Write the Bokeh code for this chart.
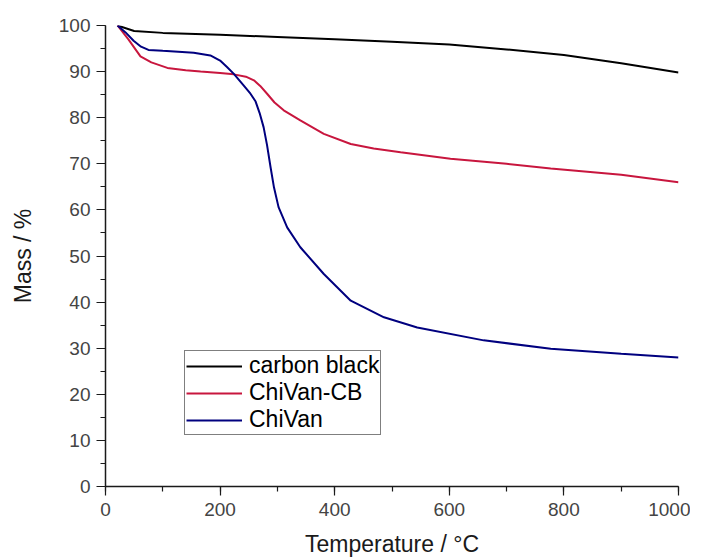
from bokeh.plotting import figure
from bokeh.embed import file_html
from bokeh.resources import INLINE
from bokeh.models import Range1d, Legend, LegendItem, SingleIntervalTicker

# Data
cb_temp = [21, 50, 100, 200, 300, 400, 500, 600, 700, 800, 900, 1000]
cb_mass = [100, 98.8, 98.4, 98.0, 97.5, 97.0, 96.5, 95.9, 94.8, 93.6, 91.8, 89.8]

cvcb_temp = [21, 40, 61, 80, 108, 140, 166, 200, 224, 245, 259, 270, 282, 295, 311,
             340, 381, 428, 468, 515, 602, 700, 777, 900, 1000]
cvcb_mass = [100, 97, 93.3, 92.0, 90.8, 90.3, 90.0, 89.7, 89.4, 88.9, 88.1, 86.9,
             85.2, 83.3, 81.6, 79.4, 76.5, 74.3, 73.3, 72.5, 71.1, 70.0, 69.0, 67.6, 66.0]

cv_temp = [21, 35, 49, 62, 75, 100, 154, 183, 200, 212, 224, 241, 253, 262, 269,
           276, 282, 288, 294, 302, 317, 340, 381, 428, 486, 544, 660, 777, 900, 1000]
cv_mass = [100, 98.5, 96.7, 95.4, 94.7, 94.5, 94.1, 93.5, 92.4, 91.0, 89.5, 87.0,
           85.2, 83.5, 81.0, 77.9, 74.0, 69.3, 64.9, 60.6, 56.2, 51.9, 46.1, 40.3,
           36.7, 34.5, 31.7, 29.9, 28.8, 28.0]

labels = ["carbon black", "ChiVan-CB", "ChiVan"]
colors = ["#000000", "#C8163E", "#00007F"]

FONT = "Liberation Sans"

p = figure(frame_width=573, frame_height=461, output_backend="svg",
           toolbar_location=None, x_range=Range1d(0, 1000), y_range=Range1d(0, 100),
           min_border_left=105, min_border_top=25, min_border_right=12,
           min_border_bottom=70)
p.outline_line_color = None
p.grid.visible = False
p.background_fill_color = "white"

renderers = []
for xs, ys, c in zip([cb_temp, cvcb_temp, cv_temp], [cb_mass, cvcb_mass, cv_mass], colors):
    r = p.line(xs, ys, line_color=c, line_width=2)
    renderers.append(r)

for ax in (p.xaxis[0], p.yaxis[0]):
    ax.axis_line_color = "#1a1a1a"
    ax.axis_line_width = 1.5
    ax.major_tick_line_color = "#1a1a1a"
    ax.minor_tick_line_color = "#1a1a1a"
    ax.major_tick_line_width = 1.2
    ax.minor_tick_line_width = 1.2
    ax.major_tick_in = 0
    ax.major_tick_out = 9
    ax.minor_tick_in = 0
    ax.minor_tick_out = 5
    ax.major_label_text_font = FONT
    ax.major_label_text_font_size = "19px"
    ax.major_label_text_color = "#444444"
    ax.axis_label_text_font = FONT
    ax.axis_label_text_font_size = "23px"
    ax.axis_label_text_font_style = "normal"
    ax.axis_label_text_color = "#1a1a1a"

p.xaxis[0].ticker = SingleIntervalTicker(interval=200, num_minor_ticks=2)
p.yaxis[0].ticker = SingleIntervalTicker(interval=10, num_minor_ticks=2)
p.xaxis[0].axis_label = "Temperature / °C"
p.yaxis[0].axis_label = "Mass / %"
p.xaxis[0].major_label_standoff = 7
p.xaxis[0].axis_label_standoff = 12
p.yaxis[0].major_label_standoff = 6
p.yaxis[0].axis_label_standoff = 20

legend = Legend(items=[LegendItem(label=l, renderers=[r]) for l, r in zip(labels, renderers)],
                location=(79, 51))
legend.border_line_color = "#000000"
legend.border_line_width = 1
legend.background_fill_alpha = 1
legend.padding = 1
legend.margin = 0
legend.spacing = 0
legend.glyph_width = 56
legend.glyph_height = 24
legend.label_height = 24
legend.label_standoff = 7
legend.label_text_font = FONT
legend.label_text_font_size = "23px"
legend.label_text_color = "#000000"
p.add_layout(legend, "center")

open("out.html", "w").write(file_html(p, INLINE))
